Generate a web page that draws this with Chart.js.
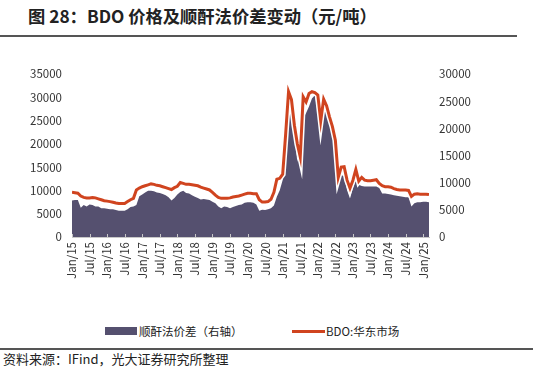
<!DOCTYPE html>
<html>
<head>
<meta charset="utf-8">
<script src="https://cdn.jsdelivr.net/npm/chart.js@4/dist/chart.umd.min.js"></script>
<style>
  body { margin: 0; width: 538px; height: 370px; background: #fff; position: relative; overflow: hidden;
         font-family: "Noto Sans CJK SC", "Noto Sans", sans-serif; color: #222; }
  .title { position: absolute; left: 28px; top: 3px; font-size: 17.3px; font-weight: bold; white-space: nowrap; }
  .rule { position: absolute; left: 0; height: 2px; background: #555; }
  #wrap { position: absolute; left: 0; top: 50px; width: 538px; height: 270px; }
  .lg { position: absolute; font-size: 11.5px; white-space: nowrap; line-height: 14px; }
  .src { position: absolute; left: 3px; top: 351px; font-size: 13px; white-space: nowrap; line-height: 16px; }
</style>
</head>
<body>
<div class="title">图 28：BDO 价格及顺酐法价差变动（元/吨）</div>
<div class="rule" style="top:35px;width:517px"></div>
<div id="wrap"><canvas id="chartBdo" width="538" height="270"></canvas></div>

<div style="position:absolute;left:105px;top:327px;width:32px;height:8px;background:#55506f"></div>
<div class="lg" style="left:139px;top:324px">顺酐法价差（右轴）</div>
<div style="position:absolute;left:292px;top:330px;width:33px;height:3px;background:#d0441f"></div>
<div class="lg" style="left:326px;top:324px">BDO:华东市场</div>

<div class="rule" style="top:348px;width:533px"></div>
<div class="src">资料来源：IFind，光大证券研究所整理</div>

<script>
// 月度数据，2015年1月起（元/吨）
const tickLabels = ['Jan/15','Jul/15','Jan/16','Jul/16','Jan/17','Jul/17','Jan/18','Jul/18','Jan/19','Jul/19',
    'Jan/20','Jul/20','Jan/21','Jul/21','Jan/22','Jul/22','Jan/23','Jul/23','Jan/24','Jul/24','Jan/25'];

// BDO:华东市场（左轴）
const bdoPrice = [
    9600, 9500, 9400, 8800, 8500, 8400, 8400, 8500, 8400, 8200, 8000, 7800,
    7700, 7600, 7450, 7300, 7200, 7200, 7200, 7600, 8000, 8300, 10100, 10500,
    10800, 11000, 11200, 11400, 11300, 11100, 11000, 10800, 10600, 10400, 10200, 10600,
    10900, 11700, 11500, 11300, 11300, 11200, 11100, 11000, 10700, 10500, 10300, 10100,
    9600, 9000, 8500, 8300, 8300, 8300, 8400, 8600, 8700, 8800, 9000, 9200,
    9400, 9400, 9300, 9300, 8000, 7500, 7500, 7600, 8100, 9600, 12400, 12600,
    13500, 22000, 31200, 29500, 24000, 20000, 17200, 30100, 29000, 30800, 31200, 31000,
    30500, 24900, 29600, 28200, 25800, 23700, 20800, 12800, 15000, 15100, 12200, 10500,
    12200, 14500, 12000, 12800, 12200, 12100, 12100, 12200, 12300, 11500, 11000, 10800,
    10800, 10700, 10400, 10200, 10100, 10100, 10100, 10000, 8700, 9200, 9300, 9200,
    9200, 9200, 9100
];

// 顺酐法价差（右轴）
const spread = [
    6700, 6800, 6800, 5400, 5900, 5600, 6000, 5900, 5600, 5600, 5300, 5300,
    5200, 5100, 5100, 4950, 4850, 4850, 4850, 5100, 5500, 5600, 5900, 7500,
    7800, 8200, 8500, 8500, 8400, 8200, 8100, 7900, 7700, 7300, 6700, 7200,
    7800, 8300, 8500, 8100, 8000, 7700, 7400, 7200, 6900, 7000, 6900, 6800,
    6500, 6200, 5600, 5300, 5600, 5500, 5300, 5500, 5700, 5900, 6000, 6300,
    6400, 6400, 6300, 6000, 4850, 5000, 4950, 5100, 5300, 5800, 7400, 8600,
    10500, 17500, 26100, 24300, 19100, 13800, 16500, 21800, 22800, 24000, 25500, 26100,
    22800, 20600, 24600, 23600, 20900, 18800, 14800, 10500, 11400, 11200, 8600, 7100,
    9000, 10500, 9600, 9400, 9300, 9300, 9300, 9300, 9300, 9000, 8000, 8000,
    7900, 7800, 7700, 7600, 7500, 7400, 7300, 7300, 5600, 6200, 6400, 6400,
    6500, 6500, 6400
];

const tickIdx = tickLabels.map((t, i) => i * 6);
const toPts = arr => arr.map((v, i) => ({ x: i, y: v }));

// x轴刻度线朝上画
const innerTicks = {
    id: 'innerTicks',
    afterDatasetsDraw(chart) {
        const sx = chart.scales.x, ctx = chart.ctx, b = chart.chartArea.bottom;
        ctx.save();
        ctx.strokeStyle = '#c8c8c8';
        ctx.lineWidth = 1;
        sx.ticks.forEach(t => {
            const px = Math.round(sx.getPixelForValue(t.value)) + 0.5;
            ctx.beginPath();
            ctx.moveTo(px, b);
            ctx.lineTo(px, b - 3);
            ctx.stroke();
        });
        ctx.restore();
    }
};

Chart.defaults.font.family = '"Noto Sans CJK SC", "Noto Sans", sans-serif';
Chart.defaults.font.size = 11.5;
Chart.defaults.color = '#333';

new Chart(document.getElementById('chartBdo'), {
    type: 'line',
    data: {
        datasets: [
            {
                label: 'BDO:华东市场',
                data: toPts(bdoPrice),
                yAxisID: 'y',
                borderColor: '#d0441f',
                borderWidth: 3,
                pointRadius: 0,
                tension: 0,
                fill: false,
                order: 0
            },
            {
                label: 'halo',
                data: toPts(bdoPrice),
                yAxisID: 'y',
                borderColor: '#ffffff',
                borderWidth: 6,
                pointRadius: 0,
                tension: 0,
                fill: false,
                order: 1
            },
            {
                label: '顺酐法价差（右轴）',
                data: toPts(spread),
                yAxisID: 'y1',
                backgroundColor: '#55506f',
                borderWidth: 0,
                pointRadius: 0,
                tension: 0,
                fill: 'origin',
                order: 2
            }
        ]
    },
    options: {
        responsive: false,
        animation: false,
        layout: { padding: { top: 24, left: 0, right: 0, bottom: 0 } },
        plugins: { legend: { display: false }, tooltip: { enabled: false } },
        scales: {
            x: {
                type: 'linear',
                min: 0,
                max: bdoPrice.length - 1,
                grid: { display: false, drawTicks: false },
                border: { display: true, color: '#c8c8c8', width: 1 },
                afterBuildTicks: s => { s.ticks = tickIdx.map(v => ({ value: v })); },
                afterFit: s => { s.height = 83; },
                ticks: {
                    padding: 5,
                    minRotation: 90,
                    maxRotation: 90,
                    autoSkip: false,
                    callback: v => tickLabels[tickIdx.indexOf(v)]
                }
            },
            y: {
                position: 'left',
                min: 0,
                max: 35000,
                grid: { display: false, drawTicks: false },
                border: { display: false },
                afterFit: s => { s.width = 72; },
                ticks: { stepSize: 5000, padding: 10, callback: v => String(v) }
            },
            y1: {
                position: 'right',
                min: 0,
                max: 30000,
                grid: { display: false, drawTicks: false },
                border: { display: false },
                afterFit: s => { s.width = 109; },
                ticks: { stepSize: 5000, padding: 10, callback: v => String(v) }
            }
        }
    },
    plugins: [innerTicks]
});
</script>
</body>
</html>
